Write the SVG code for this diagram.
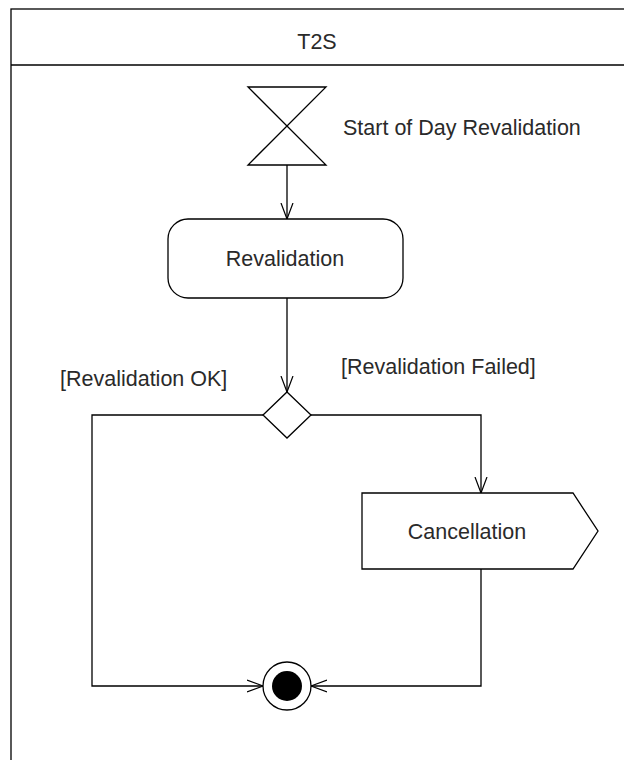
<svg xmlns="http://www.w3.org/2000/svg" width="624" height="760" viewBox="0 0 624 760">
<defs>
<style>
.ln{fill:none;stroke:#000;stroke-width:1.3}
.sh{fill:#fff;stroke:#000;stroke-width:1.3}
.tx{font-family:"Liberation Sans",Arial,sans-serif;font-size:21.5px;fill:#2a2a2a}
</style>
<marker id="open" viewBox="0 0 17 14" refX="16" refY="7" markerWidth="17" markerHeight="14" markerUnits="userSpaceOnUse" orient="auto">
<path d="M0,1 L16,7 L0,13" fill="none" stroke="#000" stroke-width="1.2"/>
</marker>
</defs>
<rect width="624" height="760" fill="#fff"/>
<g id="frame">
<rect x="11" y="9" width="640" height="800" class="ln"/>
<line x1="11" y1="65" x2="651" y2="65" class="ln"/>
<text x="317" y="49" class="tx" text-anchor="middle">T2S</text>
</g>
<g id="connectors">
<line x1="287" y1="165" x2="287" y2="219" class="ln" marker-end="url(#open)"/>
<line x1="287" y1="298" x2="287" y2="392" class="ln" marker-end="url(#open)"/>
<polyline points="263,415 92,415 92,686 263,686" class="ln" marker-end="url(#open)"/>
<polyline points="311,415 481,415 481,493" class="ln" marker-end="url(#open)"/>
<polyline points="481,569 481,686 311,686" class="ln" marker-end="url(#open)"/>
<text x="60" y="386" class="tx">[Revalidation OK]</text>
<text x="341" y="374" class="tx">[Revalidation Failed]</text>
</g>
<g id="start">
<path d="M248,87 L326,87 L248,165 L326,165 Z" class="sh"/>
<text x="343" y="135" class="tx">Start of Day Revalidation</text>
</g>
<g id="revalidation">
<rect x="168" y="219" width="235" height="79" rx="20" ry="20" class="sh"/>
<text x="285" y="266" class="tx" text-anchor="middle">Revalidation</text>
</g>
<g id="decision">
<path d="M287,392 L311,415 L287,438 L263,415 Z" class="sh"/>
</g>
<g id="cancellation">
<path d="M362,493 L573,493 L598,531 L573,569 L362,569 Z" class="sh"/>
<text x="467" y="539" class="tx" text-anchor="middle">Cancellation</text>
</g>
<g id="end">
<circle cx="287" cy="686" r="24" class="sh"/>
<circle cx="287" cy="686" r="15" fill="#000"/>
</g>
</svg>
